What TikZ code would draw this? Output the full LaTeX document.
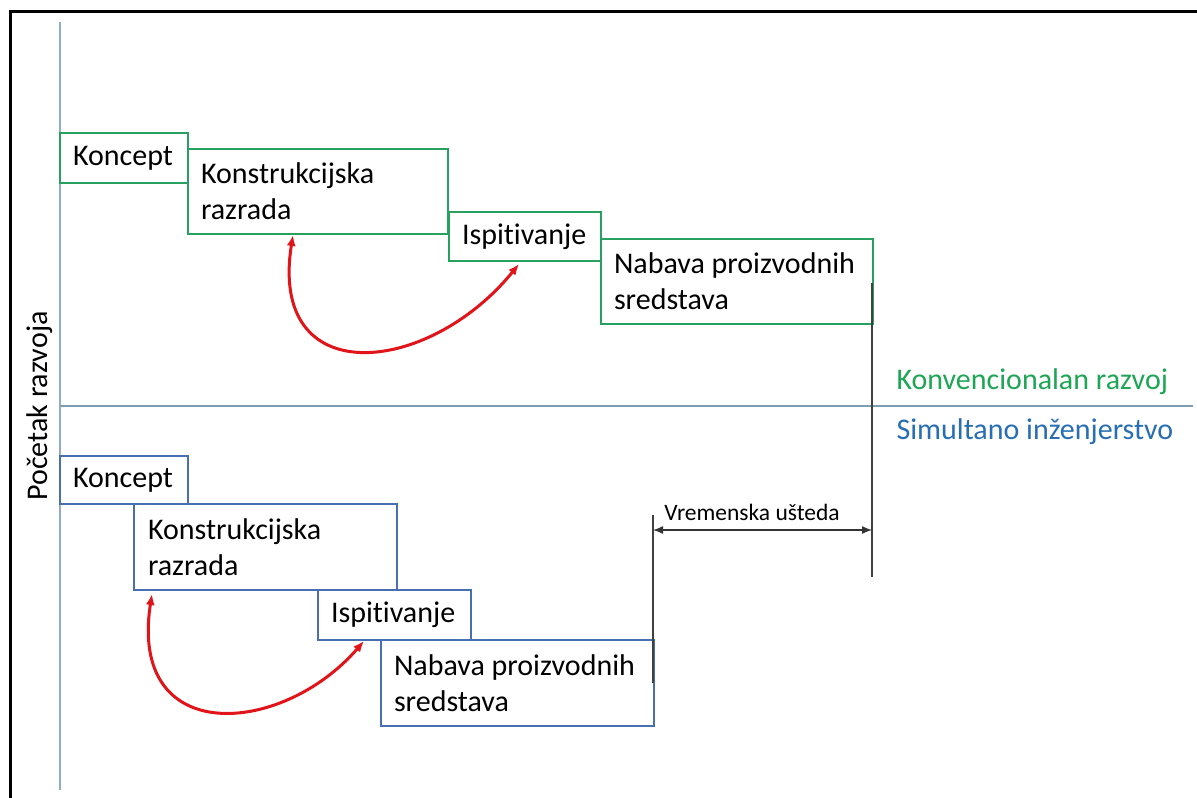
\documentclass[tikz,border=0pt]{standalone}
\usepackage{fontspec}
\setmainfont{Carlito}[Ligatures={NoCommon}]
\usetikzlibrary{arrows.meta}
\definecolor{gbox}{RGB}{40,160,95}
\definecolor{gtext}{RGB}{30,165,85}
\definecolor{bbox}{RGB}{72,110,180}
\definecolor{btext}{RGB}{40,110,180}
\definecolor{axis}{RGB}{140,175,195}
\definecolor{redarr}{RGB}{225,20,25}
\tikzset{
  phase/.style={draw, line width=2pt, fill=white, anchor=north west, inner xsep=13pt, inner ysep=0pt, align=flush left, font=\fontsize{30}{36}\selectfont},
  gphase/.style={phase, draw=gbox},
  bphase/.style={phase, draw=bbox},
  mark line/.style={draw=black!75, line width=1.6pt},
  loop arrow/.style={draw=redarr, line width=3pt, {Latex[length=11pt,width=9pt]}-{Latex[length=11pt,width=9pt]}},
  dim arrow/.style={draw=black!80, line width=1.3pt, {Latex[length=10pt,width=8pt]}-{Latex[length=10pt,width=8pt]}},
  lbl/.style={anchor=west, font=\fontsize{30}{36}\selectfont}
}
\begin{document}
\begin{tikzpicture}[x=1pt,y=-1pt]
\useasboundingbox (0,0) rectangle (1197,798);
\fill[white] (0,0) rectangle (1197,798);
% frame
\draw[line width=3.4pt] (10.7,798) -- (10.7,11.7) -- (1197,11.7);
% axes
\coordinate (ax1) at (60,22);
\coordinate (ax2) at (60,790);
\draw[axis, line width=1.3pt] (ax1) -- (ax2);
\coordinate (h1) at (60,406);
\coordinate (h2) at (1193,406);
\draw[axis!90!black, line width=1.3pt] (h1) -- (h2);
\node[rotate=90, font=\fontsize{30}{36}\selectfont] (start) at (40,406) {Početak razvoja};
% conventional
\node[gphase, minimum width=128pt, minimum height=50pt, text width=102pt] (tk1) at (59,132) {Koncept};
\node[gphase, minimum width=260pt, minimum height=85pt, text width=234pt] (tk2) at (187,148) {Konstrukcijska\\razrada};
\node[gphase, minimum width=152pt, minimum height=49pt, text width=126pt] (tk3) at (448,211) {Ispitivanje};
\node[gphase, minimum width=272pt, minimum height=85pt, text width=246pt] (tk4) at (600,238) {Nabava proizvodnih\\sredstava};
% simultaneous
\node[bphase, minimum width=128pt, minimum height=48pt, text width=102pt] (bk1) at (59,455) {Koncept};
\node[bphase, minimum width=263pt, minimum height=86pt, text width=235pt, inner xsep=14pt] (bk2) at (133,503) {Konstrukcijska\\razrada};
\node[bphase, minimum width=153pt, minimum height=50pt, text width=127pt] (bk3) at (317,589) {Ispitivanje};
\node[bphase, minimum width=273pt, minimum height=86pt, text width=247pt] (bk4) at (380,639) {Nabava proizvodnih\\sredstava};
% labels
\node[lbl, text=gtext] (conv) at (893,382) {Konvencionalan razvoj};
\node[lbl, text=btext] (sim) at (893,432) {Simultano inženjerstvo};
% end markers
\coordinate (e1t) at (872,283);
\coordinate (e1b) at (872,577);
\draw[mark line] (e1t) -- (e1b);
\coordinate (e2t) at (653,515);
\coordinate (e2b) at (653,683);
\draw[mark line] (e2t) -- (e2b);
\coordinate (d1) at (653,530);
\coordinate (d2) at (872,530);
\draw[dim arrow] (d1) -- (d2);
\node[font=\fontsize{23.5}{28}\selectfont] (save) at (752,512) {Vremenska ušteda};
% red loops
\coordinate (ra1) at (293,235);
\coordinate (ra2) at (519,264);
\draw[loop arrow] (ra1) .. controls (268,392) and (428,376) .. (ra2);
\coordinate (rb1) at (152,594);
\coordinate (rb2) at (364,641);
\draw[loop arrow] (rb1) .. controls (128,748) and (282,736) .. (rb2);
\end{tikzpicture}
\end{document}
